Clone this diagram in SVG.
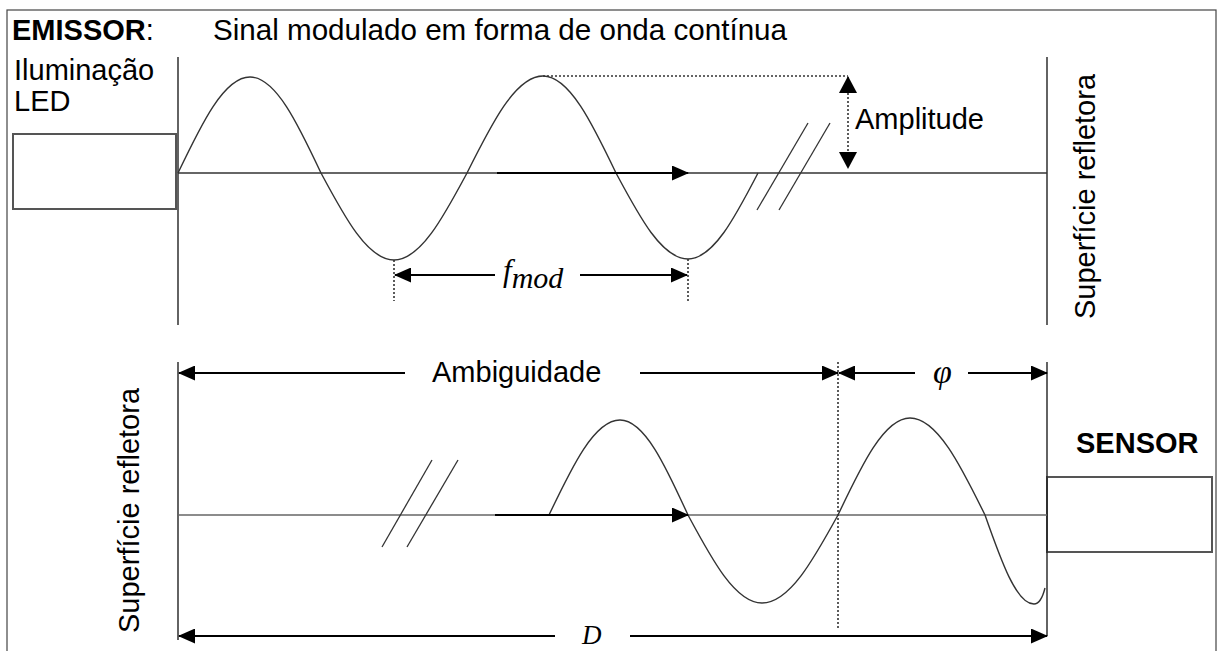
<svg xmlns="http://www.w3.org/2000/svg" width="1219" height="651" viewBox="0 0 1219 651">
<style>
  .t { font-family: "Liberation Sans", Arial, sans-serif; font-size: 29px; fill: #000; }
  .b { font-weight: bold; }
  .m { font-family: "Liberation Serif", "Times New Roman", serif; font-style: italic; fill: #000; }
  .wave { fill: none; stroke: #333; stroke-width: 1.4; }
  .vline { stroke: #222; stroke-width: 1.4; }
  .axis { stroke: #333; stroke-width: 1.3; }
  .axis2 { stroke: #666; stroke-width: 1.6; }
  .dim { stroke: #000; stroke-width: 2; fill: none; }
  .dot { stroke: #333; stroke-width: 1.6; stroke-dasharray: 2 2; fill: none; }
  .slash { stroke: #333; stroke-width: 1.3; }
  .box { fill: #fff; stroke: #555; stroke-width: 2; }
</style>
<defs>
  <marker id="ah" viewBox="0 0 17 15" refX="16" refY="7.5" markerWidth="17" markerHeight="15" markerUnits="userSpaceOnUse" orient="auto-start-reverse">
    <path d="M0,0 L17,7.5 L0,15 z" fill="#000"/>
  </marker>
  <marker id="ahw" viewBox="0 0 17 18" refX="16" refY="9" markerWidth="17" markerHeight="18" markerUnits="userSpaceOnUse" orient="auto-start-reverse">
    <path d="M0,0 L17,9 L0,18 z" fill="#000"/>
  </marker>
</defs>
<rect x="7" y="10" width="1209" height="660" fill="#fff" stroke="#444" stroke-width="1.2"/>

<g id="emissor">
  <rect class="box" x="13" y="134" width="163" height="75"/>
  <text class="t" x="12" y="40" font-size="29.5"><tspan class="b">EMISSOR</tspan>:</text>
  <text class="t" x="14" y="80">Iluminação</text>
  <text class="t" x="14" y="111">LED</text>
</g>
<g id="titulo">
  <text class="t" x="213" y="40" font-size="29.5" textLength="574" lengthAdjust="spacingAndGlyphs">Sinal modulado em forma de onda contínua</text>
</g>
<g id="superficie-topo">
  <line class="vline" x1="1047" y1="57" x2="1047" y2="325"/>
  <text class="t" transform="translate(1095,319) rotate(-90)">Superfície refletora</text>
</g>
<g id="superficie-base">
  <line class="vline" x1="178" y1="362" x2="178" y2="640"/>
  <text class="t" transform="translate(139,633) rotate(-90)">Superfície refletora</text>
</g>
<g id="sensor">
  <rect class="box" x="1047" y="477" width="165" height="75"/>
  <text class="t b" x="1076" y="453" font-size="28.5">SENSOR</text>
  <line class="vline" x1="1047" y1="362" x2="1047" y2="636"/>
</g>

<g id="onda-topo">
  <line class="vline" x1="178" y1="57" x2="178" y2="325"/>
  <line class="axis" x1="178" y1="173" x2="1047" y2="173"/>
  <path class="wave" d="M178,173 C201.5,123.8 224,77 250,77 C275.6,77 297.9,123.8 321,173 C344.8,217.5 367.7,260 394,260 C420.3,260 443.2,217.5 467,173 C491.8,123.3 515.6,76 543,76 C569.3,76 592.2,123.3 616,173 C639.5,217 662,259 688,259 C713.2,259 735.2,217 758,173"/>
  <line class="slash" x1="757" y1="210" x2="808" y2="123"/>
  <line class="slash" x1="779" y1="210" x2="830" y2="123"/>
</g>
<g id="onda-base">
  <line class="axis2" x1="178" y1="515" x2="1047" y2="515"/>
  <path class="wave" d="M549,515 C572.1,466.4 594.4,420 620,420 C644.5,420 665.8,466.4 688,515 C712.1,560 735.4,603 762,603 C789.4,603 813.2,560 838,515 C861.5,465.3 884.1,418 910,418 C937,418 960.6,465.3 985,515 C1001,560.6 1016.4,604 1034,604 C1040,604 1043,596 1045,588"/>
  <line class="slash" x1="382" y1="547" x2="432" y2="460"/>
  <line class="slash" x1="407" y1="547" x2="458" y2="460"/>
</g>

<g id="conectores">
  <line class="dim" x1="497" y1="173" x2="688" y2="173" stroke-width="2.5" marker-end="url(#ah)"/>
  <line class="dim" x1="495" y1="515" x2="688" y2="515" stroke-width="2.5" marker-end="url(#ah)"/>
  <line class="dot" x1="543" y1="76" x2="848" y2="76"/>
  <line class="dot" x1="848" y1="77" x2="848" y2="168" marker-start="url(#ahw)" marker-end="url(#ahw)"/>
  <line class="dot" x1="394" y1="260" x2="394" y2="301"/>
  <line class="dot" x1="688" y1="259" x2="688" y2="301"/>
  <line class="dim" x1="395" y1="275" x2="495" y2="275" marker-start="url(#ah)"/>
  <line class="dim" x1="580" y1="275" x2="687" y2="275" marker-end="url(#ah)"/>
  <line class="dot" x1="838" y1="362" x2="838" y2="628"/>
  <line class="dim" x1="179" y1="373" x2="405" y2="373" marker-start="url(#ah)"/>
  <line class="dim" x1="640" y1="373" x2="838" y2="373" marker-end="url(#ah)"/>
  <line class="dim" x1="839" y1="373" x2="915" y2="373" marker-start="url(#ah)"/>
  <line class="dim" x1="968" y1="373" x2="1047" y2="373" marker-end="url(#ah)"/>
  <line class="dim" x1="179" y1="636" x2="555" y2="636" marker-start="url(#ah)"/>
  <line class="dim" x1="630" y1="636" x2="1047" y2="636" marker-end="url(#ah)"/>
</g>

<g id="rotulos">
  <text class="t" x="855" y="129">Amplitude</text>
  <text class="t" x="432" y="382">Ambiguidade</text>
  <text class="m" x="503" y="281" font-size="31">f<tspan font-size="30" dy="7">mod</tspan></text>
  <text class="m" x="933" y="383" font-size="34">φ</text>
  <text class="m" x="582" y="644" font-size="27">D</text>
</g>
</svg>
